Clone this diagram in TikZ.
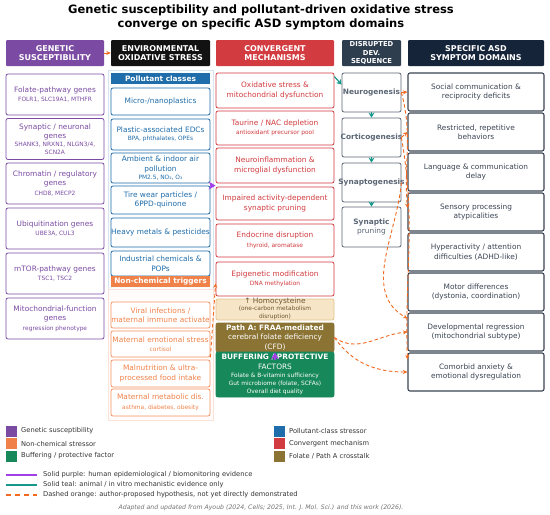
\documentclass[tikz,border=0pt]{standalone}
\usepackage{fontspec}
\setmainfont{DejaVu Sans}
\usetikzlibrary{arrows.meta,positioning}

\definecolor{genpurple}{HTML}{7B4BA3}
\definecolor{envblack}{HTML}{121212}
\definecolor{convred}{HTML}{D23B3F}
\definecolor{polblue}{HTML}{1F6DAA}
\definecolor{nonorange}{HTML}{F08249}
\definecolor{devslate}{HTML}{2E3E4E}
\definecolor{devgray}{HTML}{5B6675}
\definecolor{symnavy}{HTML}{16243A}
\definecolor{symgray}{HTML}{3B4453}
\definecolor{bufgreen}{HTML}{17885A}
\definecolor{fololive}{HTML}{8B7334}
\definecolor{hcybeige}{HTML}{F6E5C6}
\definecolor{hcyedge}{HTML}{E2C58E}
\definecolor{hcytext}{HTML}{6E5630}
\definecolor{evpurple}{HTML}{A23FE6}
\definecolor{evteal}{HTML}{17988A}
\definecolor{hyporange}{HTML}{F26A1F}
\definecolor{legtext}{HTML}{333333}

\newcommand\subtxt[1]{{\fontsize{5.9}{7.2}\selectfont #1}}
\newcommand\wideln[1]{\makebox[0pt]{#1}}

\tikzset{
	hdr/.style={minimum height=26pt, inner sep=0.5pt, text=white, align=center,
		font=\fontsize{8}{9.8}\selectfont\bfseries, rounded corners=1pt},
	cellbox/.style={draw, fill=white, rounded corners=2pt, line width=0.8pt, inner sep=0.5pt,
		align=center, font=\fontsize{7.4}{9.5}\selectfont},
	genbox/.style={cellbox, draw=genpurple, text=genpurple, minimum width=98pt, minimum height=41pt},
	polbox/.style={cellbox, draw=polblue, text=polblue, minimum width=99pt},
	nonbox/.style={cellbox, draw=nonorange!85, text=nonorange, minimum width=99pt},
	convbox/.style={cellbox, draw=convred, text=convred, minimum width=118pt},
	devbox/.style={cellbox, draw=devgray, text=devgray, minimum width=59pt, minimum height=39pt},
	symbox/.style={cellbox, draw=symgray, text=symgray, line width=1.1pt, minimum width=136pt, minimum height=38pt},
	classbar/.style={minimum width=99pt, minimum height=11pt, inner sep=0pt, text=white,
		font=\fontsize{7.4}{8}\selectfont\bfseries},
	onfill/.style={align=center, inner sep=0pt, font=\fontsize{7.4}{9.5}\selectfont},
	hyp/.style={draw=hyporange, line width=0.9pt, dash pattern=on 3.5pt off 2.5pt,
		-{Stealth[length=4.5pt,width=4pt]}},
	humev/.style={draw=evpurple, line width=1.2pt, -{Stealth[length=7pt,width=8pt]}},
	animev/.style={draw=evteal, line width=1.2pt, -{Stealth[length=5pt,width=6pt]}},
	swatch/.style={minimum size=11pt, inner sep=0pt},
	legtxt/.style={anchor=west, inner sep=0pt, text=legtext, font=\fontsize{6.7}{8}\selectfont},
}

\begin{document}
\begin{tikzpicture}[x=1pt,y=-1pt]
	\useasboundingbox (0,0) rectangle (550,515);
	\fill[white] (0,0) rectangle (550,515);
	\def\gx{55};
	\def\ex{160.5};
	\def\cx{275};
	\def\dx{371.5};
	\def\sx{476};

	% title
	\node[font=\fontsize{11.5}{14}\selectfont\bfseries, align=center] (title) at (261,17)
		{Genetic susceptibility and pollutant-driven oxidative stress\\converge on specific ASD symptom domains};

	% column heads
	\node[hdr, fill=genpurple, minimum width=98pt] (genhead) at (\gx,53) {GENETIC\\SUSCEPTIBILITY};
	\node[hdr, fill=envblack, minimum width=99pt] (envhead) at (\ex,53) {ENVIRONMENTAL\\OXIDATIVE STRESS};
	\node[hdr, fill=convred, minimum width=118pt] (convhead) at (\cx,53) {CONVERGENT\\MECHANISMS};
	\node[hdr, fill=devslate, minimum width=59pt, font=\fontsize{6.8}{8.4}\selectfont\bfseries] (devhead) at (\dx,53) {DISRUPTED\\DEV.\\SEQUENCE};
	\node[hdr, fill=symnavy, minimum width=136pt] (symhead) at (\sx,53) {SPECIFIC ASD\\SYMPTOM DOMAINS};

	% faint panels behind the environmental column
	\draw[polblue!18, fill=polblue!2, line width=0.5pt] (108,70) rectangle (213,289);
	\draw[nonorange!22, fill=nonorange!2, line width=0.5pt] (108,289) rectangle (213,420);

	% genetic susceptibility
	\node[genbox] (gfol) at (\gx,94.5) {Folate-pathway genes\\ \subtxt{FOLR1, SLC19A1, MTHFR}};
	\node[genbox] (gsyn) at (\gx,139) {Synaptic / neuronal\\genes\\[-1.5pt] \subtxt{\wideln{SHANK3, NRXN1, NLGN3/4,}}\\[-1.5pt] \subtxt{SCN2A}};
	\node[genbox] (gchr) at (\gx,183.5) {\wideln{Chromatin / regulatory}\\genes\\ \subtxt{CHD8, MECP2}};
	\node[genbox] (gubi) at (\gx,228.5) {Ubiquitination genes\\ \subtxt{UBE3A, CUL3}};
	\node[genbox] (gmtor) at (\gx,273.5) {mTOR-pathway genes\\ \subtxt{TSC1, TSC2}};
	\node[genbox] (gmito) at (\gx,318.5) {\wideln{Mitochondrial-function}\\genes\\ \subtxt{regression phenotype}};

	% pollutant classes
	\node[classbar, fill=polblue] (pclass) at (\ex,78.5) {Pollutant classes};
	\node[polbox, minimum height=27pt] (pmicro) at (\ex,101.5) {Micro-/nanoplastics};
	\node[polbox, minimum height=31pt] (pedc) at (\ex,134.5) {Plastic-associated EDCs\\[-1.5pt] \subtxt{BPA, phthalates, OPEs}};
	\node[polbox, minimum height=30pt] (pair) at (\ex,168) {Ambient \& indoor air\\pollution\\[-1.5pt] \subtxt{PM2.5, NO₂, O₃}};
	\node[polbox, minimum height=28pt] (ptire) at (\ex,200) {Tire wear particles /\\6PPD-quinone};
	\node[polbox, minimum height=29pt] (pmetal) at (\ex,232.5) {\wideln{Heavy metals \& pesticides}};
	\node[polbox, minimum height=25pt] (pind) at (\ex,263.5) {Industrial chemicals \&\\POPs};

	% non-chemical triggers
	\node[classbar, fill=nonorange] (ntrig) at (\ex,281.5) {\wideln{Non-chemical triggers}};
	\node[nonbox, minimum height=26pt] (nviral) at (\ex,315) {Viral infections /\\\wideln{maternal immune activate}};
	\node[nonbox, minimum height=26pt] (nemo) at (\ex,344) {\wideln{Maternal emotional stress}\\ \subtxt{cortisol}};
	\node[nonbox, minimum height=27pt] (nmal) at (\ex,373.5) {Malnutrition \& ultra-\\processed food intake};
	\node[nonbox, minimum height=27pt] (nmet) at (\ex,402.5) {Maternal metabolic dis.\\ \subtxt{asthma, diabetes, obesity}};

	% convergent mechanisms
	\node[convbox, minimum height=35pt] (cox) at (\cx,90.5) {Oxidative stress \&\\mitochondrial dysfunction};
	\node[convbox, minimum height=34pt] (ctau) at (\cx,128) {Taurine / NAC depletion\\ \subtxt{antioxidant precursor pool}};
	\node[convbox, minimum height=35pt] (cinf) at (\cx,165.5) {Neuroinflammation \&\\microglial dysfunction};
	\node[convbox, minimum height=33pt] (cprune) at (\cx,203.5) {\wideln{Impaired activity-dependent}\\synaptic pruning};
	\node[convbox, minimum height=33pt] (cendo) at (\cx,240.5) {Endocrine disruption\\ \subtxt{thyroid, aromatase}};
	\node[convbox, minimum height=34pt] (cepi) at (\cx,279) {Epigenetic modification\\ \subtxt{DNA methylation}};
	\node[cellbox, draw=hcyedge, fill=hcybeige, minimum width=118pt, minimum height=21pt] (chcy) at (\cx,309.5) {};
	\node[onfill, text=hcytext] (chcyt) at ([yshift=1pt]chcy.center)
		{↑ Homocysteine\\[-2pt] \subtxt{(one-carbon metabolism}\\[-2pt] \subtxt{disruption)}};
	\node[cellbox, draw=fololive, fill=fololive, minimum width=118pt, minimum height=29pt] (cpatha) at (\cx,337.5) {};
	\node[onfill, text=white] (cpathat) at (cpatha.center)
		{\textbf{Path A: FRAA-mediated}\\cerebral folate deficiency\\(CFD)};
	\node[cellbox, draw=bufgreen, fill=bufgreen, minimum width=118pt, minimum height=45pt] (cbuf) at (\cx,374.5) {};
	\node[onfill, text=white] (cbuft) at (cbuf.center)
		{\textbf{BUFFERING / PROTECTIVE}\\FACTORS\\[-1.5pt] \subtxt{Folate \& B-vitamin sufficiency}\\[-1.5pt]
		 \subtxt{Gut microbiome (folate, SCFAs)}\\[-1.5pt] \subtxt{Overall diet quality}};

	% developmental sequence
	\node[devbox] (dneuro) at (\dx,92.5) {\textbf{\wideln{Neurogenesis}}};
	\node[devbox] (dcort) at (\dx,137.5) {\textbf{\wideln{Corticogenesis}}};
	\node[devbox] (dsyn) at (\dx,182.5) {\textbf{\wideln{Synaptogenesis}}};
	\node[devbox, minimum height=40pt] (dprune) at (\dx,227) {\textbf{Synaptic}\\pruning};

	% symptom domains
	\node[symbox] (ssoc) at (\sx,92) {Social communication \&\\reciprocity deficits};
	\node[symbox] (srrb) at (\sx,132) {Restricted, repetitive\\behaviors};
	\node[symbox] (slang) at (\sx,172) {Language \& communication\\delay};
	\node[symbox] (ssens) at (\sx,212) {Sensory processing\\atypicalities};
	\node[symbox] (sadhd) at (\sx,252) {Hyperactivity / attention\\difficulties (ADHD-like)};
	\node[symbox] (smotor) at (\sx,292) {Motor differences\\(dystonia, coordination)};
	\node[symbox] (sregr) at (\sx,332) {Developmental regression\\(mitochondrial subtype)};
	\node[symbox] (sanx) at (\sx,372) {Comorbid anxiety \&\\emotional dysregulation};

	% evidence arrows
	\draw[hyp] (genhead.east) -- (envhead.west);
	\draw[humev] (ptire.north east) -- (ptire.north east -| cinf.west);
	\draw[humev] ([yshift=-8pt]cbuf.north) -- (cpatha.south);
	\draw[animev] ([yshift=-4pt]cox.north east) -- ([yshift=-12pt]dneuro.north west);
	\draw[animev] (dneuro.south) -- (dcort.north);
	\draw[animev] (dcort.south) -- (dsyn.north);
	\draw[animev] (dsyn.south) -- (dprune.north);
	\draw[hyp] (nemo.south east) -- ([yshift=13pt]cepi.south west);

	% hypothesised links to symptom domains
	\draw[hyp] (dneuro.east) -- (ssoc.west);
	\draw[hyp] (dcort.east) -- (srrb.west);
	\draw[hyp] (dneuro.east) to[out=-75,in=95] ([yshift=4pt]ssens.west);
	\draw[hyp] (dcort.east) to[out=-80,in=92] ([yshift=-7pt]sanx.north west);
	\draw[hyp] (dsyn.east) to[out=-95,in=150] ([yshift=-6pt]sregr.north west);
	\draw[hyp] (cpatha.east) to[out=-35,in=185] (sregr.west);
	\draw[hyp] (cpatha.east) to[out=-55,in=180] (sanx.west);

	% legend
	\node[swatch, fill=genpurple] (kgen) at (11.5,431) {};
	\node[legtxt] (kgent) at (21,431) {Genetic susceptibility};
	\node[swatch, fill=nonorange] (knon) at (11.5,443.5) {};
	\node[legtxt] (knont) at (21,443.5) {Non-chemical stressor};
	\node[swatch, fill=bufgreen] (kbuf) at (11.5,456) {};
	\node[legtxt] (kbuft) at (21,456) {Buffering / protective factor};
	\node[swatch, fill=polblue] (kpol) at (279.5,431) {};
	\node[legtxt] (kpolt) at (289,431) {Pollutant-class stressor};
	\node[swatch, fill=convred] (kconv) at (279.5,443.5) {};
	\node[legtxt] (kconvt) at (289,443.5) {Convergent mechanism};
	\node[swatch, fill=fololive] (kfol) at (279.5,456) {};
	\node[legtxt] (kfolt) at (289,456) {Folate / Path A crosstalk};

	\coordinate (lpa) at (6,475);
	\coordinate (lpb) at (37,475);
	\coordinate (lta) at (6,485);
	\coordinate (ltb) at (37,485);
	\coordinate (loa) at (6,495);
	\coordinate (lob) at (37,495);
	\draw[evpurple, line width=1.2pt] (lpa) -- (lpb);
	\draw[evteal, line width=1.2pt] (lta) -- (ltb);
	\draw[hyporange, line width=1.2pt, dash pattern=on 5pt off 4pt] (loa) -- (lob);
	\node[legtxt] (kpur) at (43,475) {Solid purple: human epidemiological / biomonitoring evidence};
	\node[legtxt] (ktea) at (43,485) {Solid teal: animal / in vitro mechanistic evidence only};
	\node[legtxt] (kora) at (43,495) {Dashed orange: author-proposed hypothesis, not yet directly demonstrated};

	\node[font=\fontsize{6.2}{7}\selectfont\itshape, text=black!55] (credit) at (261,508)
		{Adapted and updated from Ayoub (2024, Cells; 2025, Int. J. Mol. Sci.) and this work (2026).};
\end{tikzpicture}
\end{document}
